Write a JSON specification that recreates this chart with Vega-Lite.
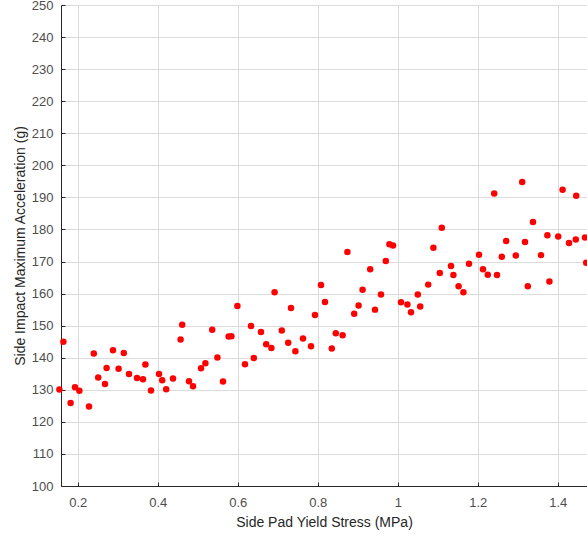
{
  "$schema": "https://vega.github.io/schema/vega-lite/v6.json",
  "width": 526,
  "height": 481,
  "autosize": {"type": "none"},
  "padding": {"left": 61, "top": 5, "right": 0, "bottom": 49},
  "background": "white",
  "config": {
    "view": {"stroke": null},
    "font": "Liberation Sans",
    "axis": {
      "domainColor": "#262626",
      "domainWidth": 1,
      "tickColor": "#262626",
      "tickSize": -4,
      "gridColor": "#dcdcdc",
      "gridWidth": 1,
      "labelColor": "#4d4d4d",
      "labelFontSize": 13,
      "labelFont": "Liberation Sans",
      "titleFont": "Liberation Sans",
      "titleFontSize": 14,
      "titleFontWeight": "normal",
      "titleColor": "#262626"
    }
  },
  "data": {
    "values": [
      {"x": 0.154, "y": 130.1}, {"x": 0.164, "y": 145.0}, {"x": 0.182, "y": 125.9}, {"x": 0.193, "y": 130.8},
      {"x": 0.204, "y": 129.7}, {"x": 0.228, "y": 124.8}, {"x": 0.240, "y": 141.3}, {"x": 0.251, "y": 133.8},
      {"x": 0.268, "y": 131.8}, {"x": 0.272, "y": 136.8}, {"x": 0.288, "y": 142.3}, {"x": 0.302, "y": 136.6},
      {"x": 0.315, "y": 141.5}, {"x": 0.328, "y": 134.9}, {"x": 0.348, "y": 133.7}, {"x": 0.363, "y": 133.3},
      {"x": 0.369, "y": 137.9}, {"x": 0.383, "y": 129.8}, {"x": 0.403, "y": 134.9}, {"x": 0.411, "y": 133.0},
      {"x": 0.421, "y": 130.2}, {"x": 0.438, "y": 133.5}, {"x": 0.457, "y": 145.7}, {"x": 0.461, "y": 150.3},
      {"x": 0.478, "y": 132.7}, {"x": 0.488, "y": 131.1}, {"x": 0.508, "y": 136.7}, {"x": 0.519, "y": 138.3},
      {"x": 0.536, "y": 148.7}, {"x": 0.549, "y": 140.1}, {"x": 0.563, "y": 132.6}, {"x": 0.577, "y": 146.6},
      {"x": 0.584, "y": 146.7}, {"x": 0.599, "y": 156.1}, {"x": 0.618, "y": 138.0}, {"x": 0.633, "y": 149.9},
      {"x": 0.640, "y": 139.9}, {"x": 0.658, "y": 148.0}, {"x": 0.671, "y": 144.2}, {"x": 0.684, "y": 143.0},
      {"x": 0.692, "y": 160.4}, {"x": 0.710, "y": 148.5}, {"x": 0.726, "y": 144.7}, {"x": 0.733, "y": 155.5},
      {"x": 0.744, "y": 142.0}, {"x": 0.763, "y": 146.0}, {"x": 0.783, "y": 143.6}, {"x": 0.793, "y": 153.3},
      {"x": 0.808, "y": 162.7}, {"x": 0.818, "y": 157.4}, {"x": 0.835, "y": 142.9}, {"x": 0.845, "y": 147.6},
      {"x": 0.862, "y": 147.0}, {"x": 0.874, "y": 173.0}, {"x": 0.891, "y": 153.7}, {"x": 0.902, "y": 156.3},
      {"x": 0.912, "y": 161.2}, {"x": 0.931, "y": 167.6}, {"x": 0.943, "y": 155.0}, {"x": 0.958, "y": 159.7},
      {"x": 0.970, "y": 170.2}, {"x": 0.979, "y": 175.4}, {"x": 0.988, "y": 175.0}, {"x": 1.008, "y": 157.3},
      {"x": 1.024, "y": 156.6}, {"x": 1.033, "y": 154.2}, {"x": 1.050, "y": 159.7}, {"x": 1.056, "y": 156.0},
      {"x": 1.076, "y": 162.8}, {"x": 1.089, "y": 174.3}, {"x": 1.105, "y": 166.4}, {"x": 1.110, "y": 180.5},
      {"x": 1.133, "y": 168.6}, {"x": 1.139, "y": 165.8}, {"x": 1.152, "y": 162.3}, {"x": 1.164, "y": 160.4},
      {"x": 1.178, "y": 169.3}, {"x": 1.203, "y": 172.1}, {"x": 1.213, "y": 167.6}, {"x": 1.225, "y": 165.9},
      {"x": 1.241, "y": 191.2}, {"x": 1.248, "y": 165.8}, {"x": 1.260, "y": 171.5}, {"x": 1.271, "y": 176.4},
      {"x": 1.295, "y": 171.9}, {"x": 1.311, "y": 194.8}, {"x": 1.318, "y": 176.1}, {"x": 1.325, "y": 162.3},
      {"x": 1.338, "y": 182.3}, {"x": 1.358, "y": 172.0}, {"x": 1.374, "y": 178.2}, {"x": 1.379, "y": 163.8},
      {"x": 1.401, "y": 177.8}, {"x": 1.412, "y": 192.4}, {"x": 1.428, "y": 175.8}, {"x": 1.445, "y": 176.9},
      {"x": 1.446, "y": 190.5}, {"x": 1.468, "y": 177.5}, {"x": 1.471, "y": 169.6}
    ]
  },
  "mark": {"type": "circle", "color": "#ff0000", "opacity": 1, "size": 42, "clip": false},
  "encoding": {
    "x": {
      "field": "x",
      "type": "quantitative",
      "scale": {"domain": [0.158, 1.473], "nice": false, "zero": false},
      "axis": {
        "title": "Side Pad Yield Stress (MPa)",
        "values": [0.2, 0.4, 0.6, 0.8, 1.0, 1.2, 1.4],
        "format": "~g",
        "labelPadding": 14,
        "titlePadding": 6
      }
    },
    "y": {
      "field": "y",
      "type": "quantitative",
      "scale": {"domain": [100, 250], "nice": false, "zero": false},
      "axis": {
        "title": "Side Impact Maximum Acceleration (g)",
        "values": [100, 110, 120, 130, 140, 150, 160, 170, 180, 190, 200, 210, 220, 230, 240, 250],
        "labelPadding": 12,
        "titlePadding": 4
      }
    }
  }
}
